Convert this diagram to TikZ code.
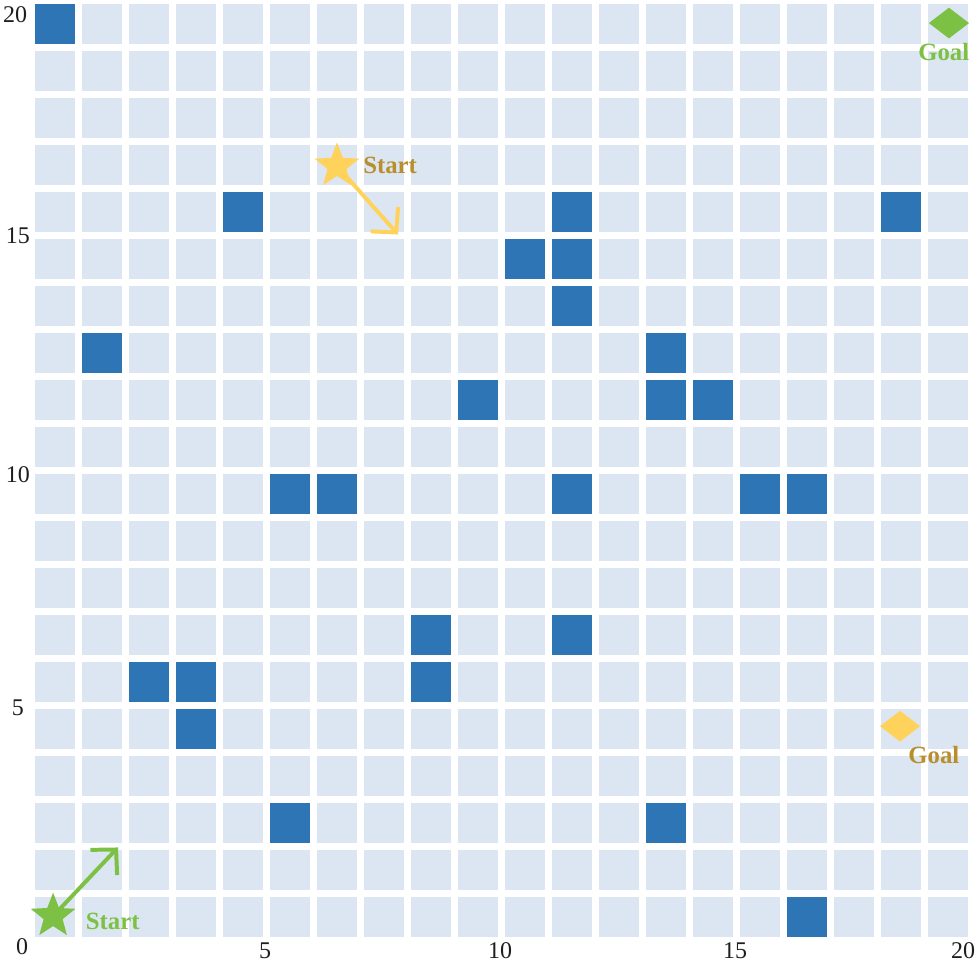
\documentclass[tikz,border=0pt]{standalone}
\usepackage{fontspec}
\setmainfont{Liberation Serif}
\usetikzlibrary{shapes.geometric,arrows.meta}
\definecolor{cellLight}{RGB}{220,230,242}
\definecolor{cellDark}{RGB}{46,117,182}
\definecolor{agGreen}{RGB}{124,193,68}
\definecolor{agYellow}{RGB}{255,210,92}
\definecolor{agGold}{RGB}{184,143,44}
\definecolor{axisText}{RGB}{30,30,30}
\tikzset{
  gridcell/.style={draw=none,minimum size=0.851cm,inner sep=0pt,outer sep=0pt},
  startstar/.style={star,star points=5,star point ratio=2.35,minimum size=1.0cm,inner sep=0pt,draw=none},
  goalgem/.style={diamond,minimum width=0.86cm,minimum height=0.66cm,inner sep=0pt,draw=none},
  movearrow/.style={line width=2.4pt,-{Straight Barb[length=0.38cm,width=0.78cm,line width=2.4pt]}},
  tag/.style={font=\fontsize{15}{18}\selectfont\bfseries,inner sep=0pt},
  axlab/.style={font=\fontsize{14.5}{17}\selectfont,text=axisText,inner sep=0pt}
}
\foreach \p in {0/19,4/15,11/15,18/15,10/14,11/14,11/13,1/12,13/12,9/11,13/11,14/11,5/9,6/9,11/9,15/9,16/9,8/6,11/6,2/5,3/5,8/5,3/4,5/2,13/2,16/0}{\expandafter\gdef\csname dk-\p\endcsname{}}
\begin{document}
\begin{tikzpicture}
\useasboundingbox (-0.670,-0.521) rectangle (20.181,20.011);
% grid cells
\foreach \i in {0,...,19}{
  \foreach \j in {0,...,19}{
    \ifcsname dk-\i/\j\endcsname\def\cellcol{cellDark}\else\def\cellcol{cellLight}\fi
    \node[gridcell,fill=\cellcol] (c-\i-\j) at (\i+0.5,\j+0.5) {};
  }
}
% axis labels
\node[axlab] (x0) at (-0.2,-0.14) {0};
\node[axlab] (x5) at (4.97,-0.22) {5};
\node[axlab] (x10) at (9.97,-0.22) {10};
\node[axlab] (x15) at (14.97,-0.22) {15};
\node[axlab] (x20) at (19.82,-0.22) {20};
\node[axlab] (y5) at (-0.29,4.96) {5};
\node[axlab] (y10) at (-0.29,9.92) {10};
\node[axlab] (y15) at (-0.29,15.0) {15};
\node[axlab] (y20) at (-0.35,19.7) {20};
% green agent
\coordinate (gtip) at (1.84,1.98);
\node[startstar] (gstarpos) at (0.46,0.52) {};
\draw[movearrow,agGreen] (gstarpos.center) -- (gtip);
\node[startstar,fill=agGreen] (gstar) at (0.46,0.52) {};
\node[tag,text=agGreen] (gstart) at (1.73,0.40) {Start};
\node[goalgem,fill=agGreen] (ggoal) at (19.52,19.52) {};
\node[tag,text=agGreen] (ggoaltxt) at (19.41,18.90) {Goal};
% yellow agent
\coordinate (ytip) at (7.80,15.02);
\node[startstar] (ystarpos) at (6.5,16.48) {};
\draw[movearrow,agYellow] (ystarpos.center) -- (ytip);
\node[startstar,fill=agYellow] (ystar) at (6.5,16.48) {};
\node[tag,text=agGold] (ystart) at (7.63,16.50) {Start};
\node[goalgem,fill=agYellow] (ygoal) at (18.48,4.56) {};
\node[tag,text=agGold] (ygoaltxt) at (19.2,3.95) {Goal};
\end{tikzpicture}
\end{document}
